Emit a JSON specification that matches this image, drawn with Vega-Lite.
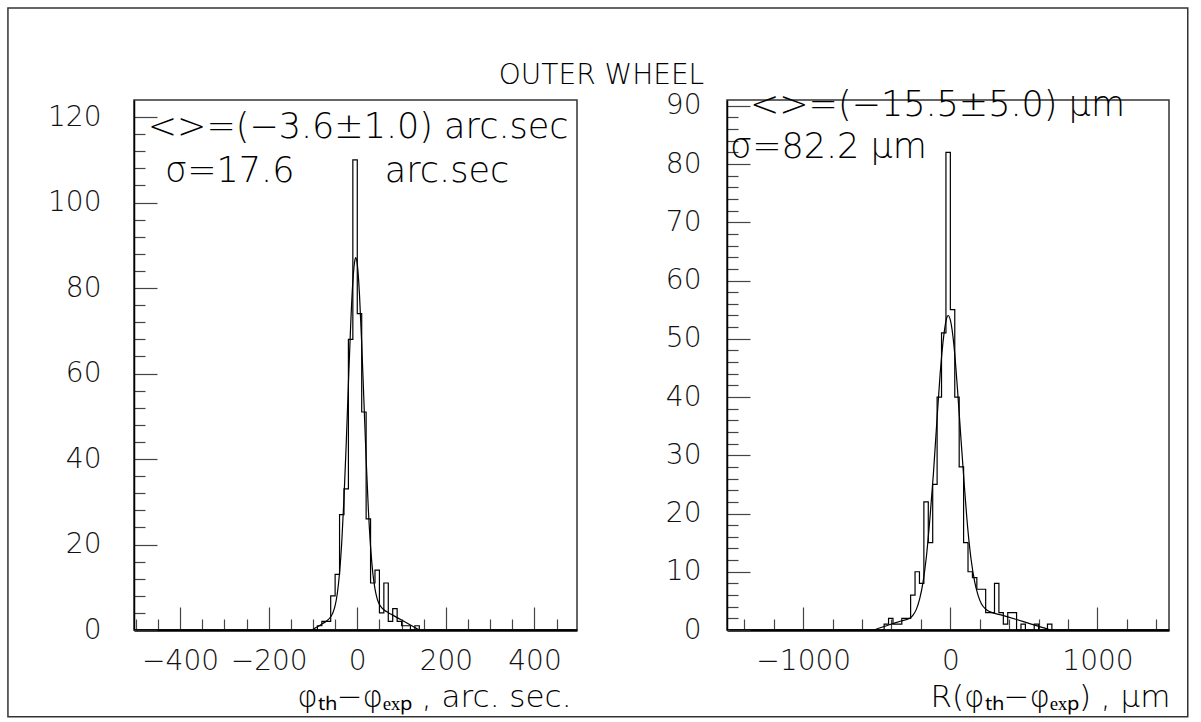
{
  "$schema": "https://vega.github.io/schema/vega-lite/v6.json",
  "padding": {"left": 6, "top": 6, "right": 5, "bottom": 5},
  "background": "white",
  "bounds": "flush",
  "spacing": 150,
  "datasets": {
    "hist_left": [
      {"dphi": -500, "n": 0}, {"dphi": -100, "n": 0}, {"dphi": -90, "n": 1}, {"dphi": -80, "n": 2}, {"dphi": -70, "n": 2},
      {"dphi": -60, "n": 8}, {"dphi": -50, "n": 13}, {"dphi": -40, "n": 27}, {"dphi": -30, "n": 33}, {"dphi": -20, "n": 68},
      {"dphi": -10, "n": 110}, {"dphi": 0, "n": 74}, {"dphi": 10, "n": 51}, {"dphi": 20, "n": 26}, {"dphi": 30, "n": 11},
      {"dphi": 40, "n": 14}, {"dphi": 50, "n": 4}, {"dphi": 60, "n": 11}, {"dphi": 70, "n": 2}, {"dphi": 80, "n": 5},
      {"dphi": 90, "n": 2}, {"dphi": 100, "n": 1}, {"dphi": 110, "n": 1}, {"dphi": 120, "n": 0}, {"dphi": 130, "n": 1},
      {"dphi": 140, "n": 0}, {"dphi": 490, "n": 0}
    ],
    "fit_left": [
      {"dphi": -102, "f": 0}, {"dphi": -90, "f": 0.74}, {"dphi": -80, "f": 1.4}, {"dphi": -70, "f": 2.05}, {"dphi": -60, "f": 3.1},
      {"dphi": -55, "f": 4.05}, {"dphi": -50, "f": 5.7}, {"dphi": -45, "f": 8.6}, {"dphi": -40, "f": 13.4}, {"dphi": -35, "f": 20.6},
      {"dphi": -30, "f": 30.8}, {"dphi": -25, "f": 43.4}, {"dphi": -20, "f": 57.6}, {"dphi": -15, "f": 71.1}, {"dphi": -10, "f": 81.5},
      {"dphi": -5, "f": 86.7}, {"dphi": -3.6, "f": 87.1}, {"dphi": 0, "f": 85.6}, {"dphi": 5, "f": 78.5}, {"dphi": 10, "f": 67},
      {"dphi": 15, "f": 53.6}, {"dphi": 20, "f": 40}, {"dphi": 25, "f": 28.3}, {"dphi": 30, "f": 19.5}, {"dphi": 35, "f": 13.4},
      {"dphi": 40, "f": 9.6}, {"dphi": 45, "f": 7.3}, {"dphi": 50, "f": 6.0}, {"dphi": 55, "f": 5.25}, {"dphi": 60, "f": 4.75},
      {"dphi": 70, "f": 4.06}, {"dphi": 80, "f": 3.48}, {"dphi": 100, "f": 2.32}, {"dphi": 120, "f": 1.16}, {"dphi": 140, "f": 0}
    ],
    "hist_right": [
      {"dR": -1500, "n": 0}, {"dR": -480, "n": 0}, {"dR": -450, "n": 1}, {"dR": -420, "n": 2}, {"dR": -390, "n": 1},
      {"dR": -360, "n": 1}, {"dR": -330, "n": 2}, {"dR": -300, "n": 2}, {"dR": -270, "n": 6}, {"dR": -240, "n": 10},
      {"dR": -210, "n": 8}, {"dR": -180, "n": 22}, {"dR": -150, "n": 15}, {"dR": -120, "n": 25}, {"dR": -90, "n": 40},
      {"dR": -60, "n": 51}, {"dR": -30, "n": 82}, {"dR": 0, "n": 55}, {"dR": 30, "n": 40}, {"dR": 60, "n": 28},
      {"dR": 90, "n": 15}, {"dR": 120, "n": 10}, {"dR": 150, "n": 9}, {"dR": 180, "n": 7}, {"dR": 210, "n": 7},
      {"dR": 240, "n": 3}, {"dR": 270, "n": 3}, {"dR": 300, "n": 8}, {"dR": 330, "n": 3}, {"dR": 360, "n": 1},
      {"dR": 390, "n": 3}, {"dR": 420, "n": 3}, {"dR": 450, "n": 0}, {"dR": 480, "n": 1}, {"dR": 510, "n": 0},
      {"dR": 570, "n": 1}, {"dR": 600, "n": 0}, {"dR": 660, "n": 1}, {"dR": 690, "n": 0}, {"dR": 1480, "n": 0}
    ],
    "fit_right": [
      {"dR": -518, "f": 0}, {"dR": -420, "f": 0.85}, {"dR": -340, "f": 1.5}, {"dR": -270, "f": 2.1}, {"dR": -255, "f": 2.5},
      {"dR": -232, "f": 3.5}, {"dR": -209, "f": 5.3}, {"dR": -185, "f": 8.3}, {"dR": -162, "f": 12.8}, {"dR": -139, "f": 19.1},
      {"dR": -115, "f": 26.9}, {"dR": -92, "f": 35.7}, {"dR": -69, "f": 44.1}, {"dR": -45, "f": 50.5}, {"dR": -22, "f": 53.8},
      {"dR": -15, "f": 54}, {"dR": 1, "f": 53.1}, {"dR": 25, "f": 48.7}, {"dR": 48, "f": 41.5}, {"dR": 71, "f": 33.2},
      {"dR": 95, "f": 24.8}, {"dR": 118, "f": 17.5}, {"dR": 141, "f": 12.1}, {"dR": 165, "f": 8.3}, {"dR": 188, "f": 6.0},
      {"dR": 211, "f": 4.5}, {"dR": 235, "f": 3.7}, {"dR": 258, "f": 3.25}, {"dR": 350, "f": 2.55}, {"dR": 450, "f": 1.8},
      {"dR": 550, "f": 1.0}, {"dR": 683, "f": 0}
    ]
  },
  "hconcat": [
    {
      "width": 443,
      "height": 530,
      "title": {"text": "OUTER WHEEL", "font": "DejaVu Sans", "fontSize": 28, "fontWeight": 200, "color": "black", "anchor": "middle", "frame": "group", "offset": 10, "dx": 246},
      "layer": [
        {
          "data": {"name": "hist_left"},
          "mark": {"type": "line", "interpolate": "step-after", "color": "black", "strokeWidth": 1.2},
          "encoding": {
            "x": {"field": "dphi", "type": "quantitative", "scale": {"domain": [-504, 496], "nice": false, "zero": false},
              "axis": {
                "values": [-500, -450, -400, -350, -300, -250, -200, -150, -100, -50, 0, 50, 100, 150, 200, 250, 300, 350, 400, 450],
                "format": "d",
                "labelExpr": "datum.value % 200 === 0 ? datum.label : ''",
                "tickSize": {"condition": {"test": "datum.value % 200 === 0", "value": -23}, "value": -11},
                "labelPadding": 40,
                "title": "φₜₕ−φₑₓₚ , arc. sec.",
                "titleX": 437, "titleY": 76, "titleAlign": "right", "titleBaseline": "alphabetic"
              }
            },
            "y": {"field": "n", "type": "quantitative", "scale": {"domain": [0, 124], "nice": false},
              "axis": {
                "values": [0, 4, 8, 12, 16, 20, 24, 28, 32, 36, 40, 44, 48, 52, 56, 60, 64, 68, 72, 76, 80, 84, 88, 92, 96, 100, 104, 108, 112, 116, 120],
                "format": "d",
                "labelExpr": "datum.value % 20 === 0 ? datum.label : ''",
                "tickSize": {"condition": {"test": "datum.value % 20 === 0", "value": -23}, "value": -11},
                "labelPadding": 56,
                "title": null
              }
            }
          }
        },
        {
          "data": {"name": "fit_left"},
          "mark": {"type": "line", "interpolate": "monotone", "color": "black", "strokeWidth": 1.2},
          "encoding": {
            "x": {"field": "dphi", "type": "quantitative"},
            "y": {"field": "f", "type": "quantitative"}
          }
        },
        {
          "data": {"values": [{"stat": "<>=(−3.6±1.0) arc.sec"}]},
          "mark": {"type": "text", "align": "left", "baseline": "alphabetic", "font": "DejaVu Sans", "fontSize": 35, "fontWeight": 200, "color": "black"},
          "encoding": {"text": {"field": "stat"}, "x": {"datum": -473, "type": "quantitative"}, "y": {"datum": 115.2, "type": "quantitative"}}
        },
        {
          "data": {"values": [{"stat": "σ=17.6"}]},
          "mark": {"type": "text", "align": "left", "baseline": "alphabetic", "font": "DejaVu Sans", "fontSize": 35, "fontWeight": 200, "color": "black"},
          "encoding": {"text": {"field": "stat"}, "x": {"datum": -434, "type": "quantitative"}, "y": {"datum": 104.9, "type": "quantitative"}}
        },
        {
          "data": {"values": [{"stat": "arc.sec"}]},
          "mark": {"type": "text", "align": "left", "baseline": "alphabetic", "font": "DejaVu Sans", "fontSize": 35, "fontWeight": 200, "color": "black"},
          "encoding": {"text": {"field": "stat"}, "x": {"datum": 62, "type": "quantitative"}, "y": {"datum": 104.9, "type": "quantitative"}}
        }
      ]
    },
    {
      "width": 442,
      "height": 530,
      "layer": [
        {
          "data": {"name": "hist_right"},
          "mark": {"type": "line", "interpolate": "step-after", "color": "black", "strokeWidth": 1.2},
          "encoding": {
            "x": {"field": "dR", "type": "quantitative", "scale": {"domain": [-1518, 1486], "nice": false, "zero": false},
              "axis": {
                "values": [-1400, -1200, -1000, -800, -600, -400, -200, 0, 200, 400, 600, 800, 1000, 1200, 1400],
                "format": "d",
                "labelExpr": "datum.value % 1000 === 0 ? datum.label : ''",
                "tickSize": {"condition": {"test": "datum.value % 1000 === 0", "value": -23}, "value": -11},
                "labelPadding": 40,
                "title": "R(φₜₕ−φₑₓₚ) , μm",
                "titleX": 443, "titleY": 76, "titleAlign": "right", "titleBaseline": "alphabetic"
              }
            },
            "y": {"field": "n", "type": "quantitative", "scale": {"domain": [0, 91], "nice": false},
              "axis": {
                "values": [0, 2, 4, 6, 8, 10, 12, 14, 16, 18, 20, 22, 24, 26, 28, 30, 32, 34, 36, 38, 40, 42, 44, 46, 48, 50, 52, 54, 56, 58, 60, 62, 64, 66, 68, 70, 72, 74, 76, 78, 80, 82, 84, 86, 88, 90],
                "format": "d",
                "labelExpr": "datum.value % 10 === 0 ? datum.label : ''",
                "tickSize": {"condition": {"test": "datum.value % 10 === 0", "value": -23}, "value": -11},
                "labelPadding": 49,
                "title": null
              }
            }
          }
        },
        {
          "data": {"name": "fit_right"},
          "mark": {"type": "line", "interpolate": "monotone", "color": "black", "strokeWidth": 1.2},
          "encoding": {
            "x": {"field": "dR", "type": "quantitative"},
            "y": {"field": "f", "type": "quantitative"}
          }
        },
        {
          "data": {"values": [{"stat": "<>=(−15.5±5.0) μm"}]},
          "mark": {"type": "text", "align": "left", "baseline": "alphabetic", "font": "DejaVu Sans", "fontSize": 35, "fontWeight": 200, "color": "black"},
          "encoding": {"text": {"field": "stat"}, "x": {"datum": -1362, "type": "quantitative"}, "y": {"datum": 88.3, "type": "quantitative"}}
        },
        {
          "data": {"values": [{"stat": "σ=82.2 μm"}]},
          "mark": {"type": "text", "align": "left", "baseline": "alphabetic", "font": "DejaVu Sans", "fontSize": 35, "fontWeight": 200, "color": "black"},
          "encoding": {"text": {"field": "stat"}, "x": {"datum": -1498, "type": "quantitative"}, "y": {"datum": 81.1, "type": "quantitative"}}
        },
        {
          "data": {"values": [{"frame": "page"}]},
          "mark": {"type": "rect", "fill": null, "fillOpacity": 0, "stroke": "#333", "strokeWidth": 1.5, "clip": false},
          "encoding": {
            "x": {"datum": -6405, "type": "quantitative"}, "x2": {"datum": 1613.5},
            "y": {"datum": 106.8, "type": "quantitative"}, "y2": {"datum": -14.9}
          }
        }
      ]
    }
  ],
  "config": {
    "view": {"stroke": "#333", "strokeWidth": 1.5},
    "axis": {
      "grid": false, "tickCount": 100,
      "domainColor": "black", "domainWidth": 1.5,
      "tickColor": "#444", "tickWidth": 1.2,
      "labelFont": "DejaVu Sans", "labelFontSize": 28, "labelFontWeight": 200, "labelColor": "#111",
      "labelFlush": false, "labelOverlap": false,
      "titleFont": "DejaVu Sans", "titleFontSize": 31, "titleFontWeight": 200, "titleColor": "black"
    },
    "axisX": {"domainWidth": 2.5}
  }
}
